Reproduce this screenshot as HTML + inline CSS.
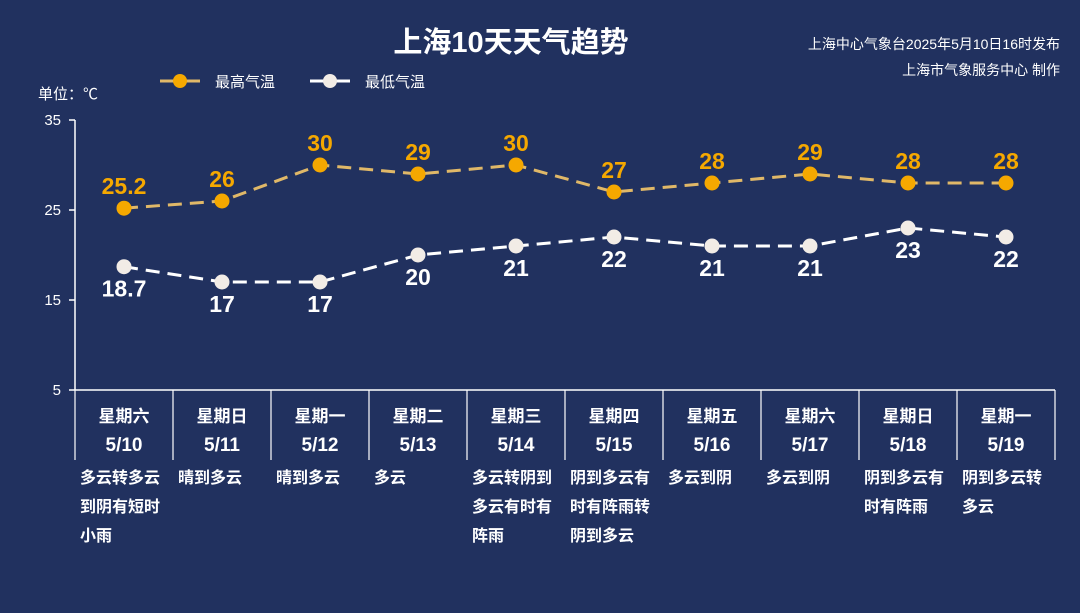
<!DOCTYPE html>
<html><head><meta charset="utf-8"><style>
body{margin:0;background:#21315f;}
svg{display:block;font-family:"Liberation Sans","Noto Sans CJK SC",sans-serif;}
</style></head><body>
<svg width="1080" height="613" viewBox="0 0 1080 613">
<rect width="1080" height="613" fill="#21315f"/>
<text x="511" y="52" text-anchor="middle" fill="#fff" font-size="29" font-weight="bold">上海10天天气趋势</text>
<text x="1060" y="49" text-anchor="end" fill="#fff" font-size="14">上海中心气象台2025年5月10日16时发布</text>
<text x="1060" y="75" text-anchor="end" fill="#fff" font-size="14">上海市气象服务中心 制作</text>
<g>
<line x1="160" y1="81" x2="200" y2="81" stroke="#e0b868" stroke-width="3"/>
<circle cx="180" cy="81" r="7" fill="#f5a800"/>
<text x="215" y="87" fill="#fff" font-size="15">最高气温</text></g>
<g>
<line x1="310" y1="81" x2="350" y2="81" stroke="#fff" stroke-width="3"/>
<circle cx="330" cy="81" r="7" fill="#f2ece6"/>
<text x="365" y="87" fill="#fff" font-size="15">最低气温</text></g>
<text x="38" y="99" fill="#fff" font-size="15">单位：℃</text>
<g id="axes"></g>
<g id="marks"></g>
</svg>
<script>
const dates=["5/10","5/11","5/12","5/13","5/14","5/15","5/16","5/17","5/18","5/19"];
const weekdays=["星期六","星期日","星期一","星期二","星期三","星期四","星期五","星期六","星期日","星期一"];
const highs=[25.2,26,30,29,30,27,28,29,28,28];
const lows=[18.7,17,17,20,21,22,21,21,23,22];
const weather=[["多云转多云","到阴有短时","小雨"],["晴到多云"],["晴到多云"],["多云"],["多云转阴到","多云有时有","阵雨"],["阴到多云有","时有阵雨转","阴到多云"],["多云到阴"],["多云到阴"],["阴到多云有","时有阵雨"],["阴到多云转","多云"]];
const yTicks=[5,15,25,35];
const NS="http://www.w3.org/2000/svg";
const X0=75,CW=98,Y0=390,PX=9,YMIN=5;
const xc=i=>X0+CW*i+CW/2;
const yv=v=>Y0-(v-YMIN)*PX;
const ax=document.getElementById('axes'),mk=document.getElementById('marks');
function mkEl(t,a,p,txt){const e=document.createElementNS(NS,t);for(const k in a)e.setAttribute(k,a[k]);if(txt!==undefined)e.textContent=txt;p.appendChild(e);return e;}
let e=mkEl('line',{x1:X0,y1:yv(35),x2:X0,y2:Y0,stroke:'#fff','stroke-width':1.5},ax);


e=mkEl('line',{x1:X0,y1:Y0,x2:X0+CW*10,y2:Y0,stroke:'#fff','stroke-width':1.5},ax);


yTicks.forEach(t=>{
 let l=mkEl('line',{x1:X0-6,y1:yv(t),x2:X0,y2:yv(t),stroke:'#fff','stroke-width':1.5},ax);
 
 
 let tx=mkEl('text',{x:X0-14,y:yv(t)+5,'text-anchor':'end',fill:'#fff','font-size':15},ax,String(t));
 
 
});
for(let i=0;i<=10;i++){
 let l=mkEl('line',{x1:X0+CW*i,y1:Y0,x2:X0+CW*i,y2:460,stroke:'#fff','stroke-width':1.2},ax);
 
 
}
dates.forEach((d,i)=>{
 let w=mkEl('text',{x:xc(i),y:422,'text-anchor':'middle',fill:'#fff','font-size':17,'font-weight':'bold'},ax,weekdays[i]);
 
 
 let t=mkEl('text',{x:xc(i),y:451,'text-anchor':'middle',fill:'#fff','font-size':19,'font-weight':'bold'},ax,d);
 
 
 weather[i].forEach((s,j)=>{
  let ws=mkEl('text',{x:X0+CW*i+5,y:483+j*29,fill:'#fff','font-size':16,'font-weight':'bold'},ax,s);
  
  
 });
});
function series(vals,lineCol,dotCol,labCol,above,name){
 let pts=vals.map((v,i)=>xc(i)+','+yv(v)).join(' ');
 let p=mkEl('polyline',{points:pts,fill:'none',stroke:lineCol,'stroke-width':3,'stroke-dasharray':'14 8'},mk);
 
 
 vals.forEach((v,i)=>{
  let c=mkEl('circle',{cx:xc(i),cy:yv(v),r:7.5,fill:dotCol},mk);
  
  
  let t=mkEl('text',{x:xc(i),y:above?yv(v)-14:yv(v)+30,'text-anchor':'middle',fill:labCol,'font-size':23,'font-weight':'bold'},mk,String(v));
  
  
 });
}
series(highs,'#e0b868','#f5a800','#f5a800',true,'high-temp');
series(lows,'#ffffff','#f2ece6','#ffffff',false,'low-temp');
</script>
</body></html>
